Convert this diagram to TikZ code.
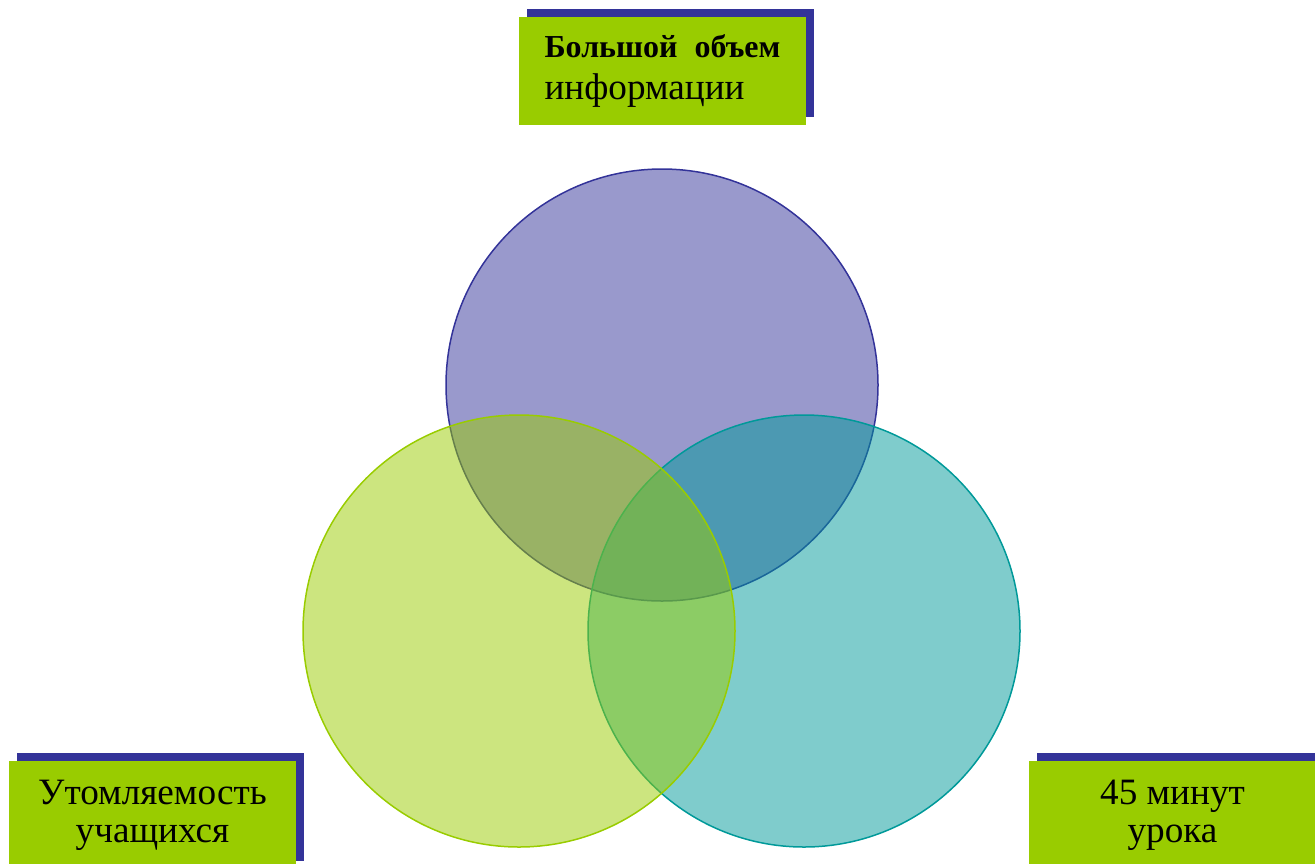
\documentclass[tikz,border=0pt]{standalone}
\usepackage{fontspec}
\setmainfont{Liberation Serif}
\usepackage{xcolor}
\usepackage{tikz}
\usetikzlibrary{positioning}
\definecolor{boxgreen}{HTML}{99CC00}
\definecolor{boxblue}{HTML}{333399}
\definecolor{setteal}{HTML}{009999}
\tikzset{shadow node/.style={rectangle,fill=boxblue,minimum width=143.5pt,minimum height=54pt,inner sep=0pt},
	text node/.style={rectangle,fill=boxgreen,minimum width=143.5pt,minimum height=54pt,inner sep=0pt,align=center,font=\fontsize{18.6}{19}\selectfont},
	set node/.style={circle,minimum size=216pt,inner sep=0pt,line width=.75pt,fill opacity=.5},}

\begin{document}
\begin{tikzpicture}[x=.5pt,y=-.5pt]
	\clip (0,0) rectangle (1315,863);
	% three sets
	\node[set node,draw=boxblue,fill=boxblue] (1) at (662,385) {};
	\node[set node,draw=setteal,fill=setteal] (3) at (804,631) {};
	\node[set node,draw=boxgreen,fill=boxgreen] (2) at (519,631) {};
	
	% labels
	\node[shadow node] (1s) at (670.5,63) {};
	\node[text node,align=left] (1t) at (662.5,71) {{\fontsize{16}{19}\selectfont\textbf{Большой\hspace{4.5pt} объем}}\\[2pt]информации};
	
	\node[shadow node] (2s) at (160.5,807) {};
	\node[text node] (2t) at (152.5,815) {Утомляемость\\учащихся};
	
	\node[shadow node] (3s) at (1180.5,807) {};
	\node[text node] (3t) at (1172.5,815) {45 минут\\урока};
\end{tikzpicture}
\end{document}
